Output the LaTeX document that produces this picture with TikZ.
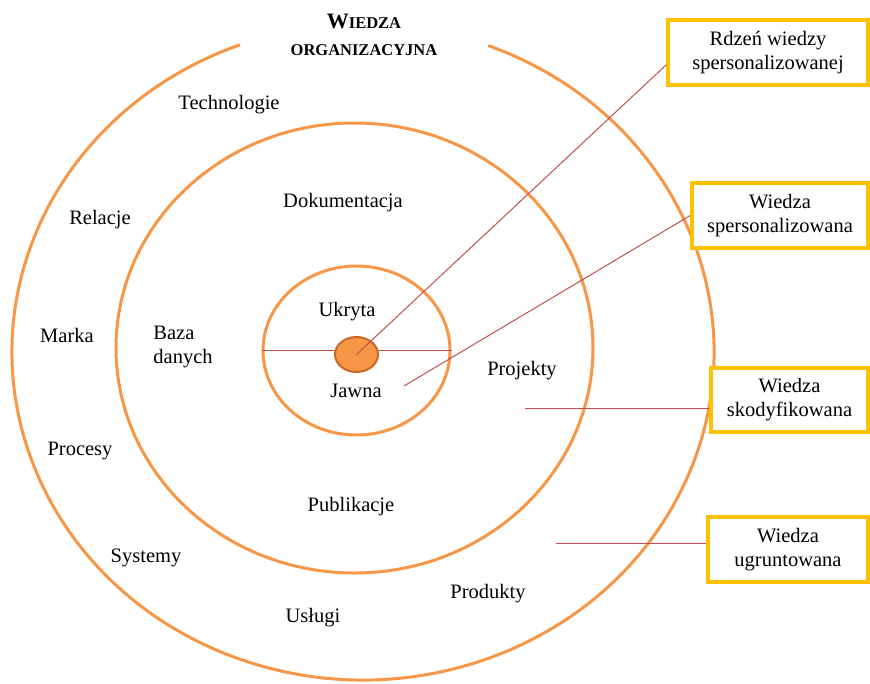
\documentclass[tikz,border=0pt]{standalone}
\usepackage{fontspec}
\setmainfont{Liberation Serif}
\usetikzlibrary{shapes.geometric,calc}
\definecolor{ringorange}{HTML}{F79646}
\definecolor{dotedge}{HTML}{C8682A}
\definecolor{boxgold}{HTML}{FFC000}
\definecolor{leader}{HTML}{C0504D}
\begin{document}
\begin{tikzpicture}[x=1pt,y=1pt,
  ring/.style={draw=ringorange, line width=3pt},
  ringnode/.style={ring, ellipse, inner sep=0pt, fill=none},
  lbl/.style={font=\fontsize{20.5}{24}\selectfont, inner sep=0pt, text=black},
  infobox/.style={draw=boxgold, line width=3.5pt, fill=white, align=center,
    font=\fontsize{20.5}{24}\selectfont, inner sep=0pt, text=black},
  leaderline/.style={draw=leader, line width=1pt}]
\useasboundingbox (0,0) rectangle (870,-683);

% outer ring, open at the top for the heading
\coordinate (oc) at (363,-352);
\draw[ring] ($(oc)+(69.1:351 and 328)$) arc[start angle=69.1, end angle=-249.5, x radius=351, y radius=328];

% heading in bold small capitals
\node[align=center, inner sep=0pt, font=\bfseries\fontsize{16.5}{27}\selectfont] (title) at (364,-34.5)
  {{\fontsize{22}{27}\selectfont W}IEDZA\\ORGANIZACYJNA};

% middle and inner rings
\node[ringnode, minimum width=477, minimum height=450] (mid) at (354.5,-348) {};
\node[ringnode, minimum width=187, minimum height=169] (inner) at (356.5,-350.5) {};

% divider of the inner ring and the core
\draw[leaderline] (inner.west) -- (inner.east);
\node[ellipse, draw=dotedge, line width=2pt, fill=ringorange, inner sep=0pt,
  minimum width=43, minimum height=35] (core) at (356.5,-354.5) {};

% outer ring labels
\node[lbl] (technologie) at (229,-105) {Technologie};
\node[lbl] (relacje) at (100,-220) {Relacje};
\node[lbl] (marka) at (67,-335) {Marka};
\node[lbl] (procesy) at (80,-451) {Procesy};
\node[lbl] (systemy) at (146,-558) {Systemy};
\node[lbl] (uslugi) at (313,-618) {Usługi};
\node[lbl] (produkty) at (488,-594) {Produkty};

% middle ring labels
\node[lbl] (dokumentacja) at (343,-203) {Dokumentacja};
\node[lbl, align=left] (baza) at (183,-347) {Baza\\danych};
\node[lbl] (projekty) at (522,-371) {Projekty};
\node[lbl] (publikacje) at (351,-507) {Publikacje};

% inner ring labels
\node[lbl] (ukryta) at (347,-312) {Ukryta};
\node[lbl] (jawna) at (356,-391) {Jawna};

% legend boxes
\node[infobox, minimum width=200, minimum height=65] (box1) at (768,-52.5)
  {Rdzeń wiedzy\\spersonalizowanej};
\node[infobox, minimum width=176, minimum height=65] (box2) at (780,-215.5)
  {Wiedza\\spersonalizowana};
\node[infobox, minimum width=157, minimum height=64] (box3) at (789.5,-400)
  {Wiedza\\skodyfikowana};
\node[infobox, minimum width=160, minimum height=65] (box4) at (788,-549.5)
  {Wiedza\\ugruntowana};

% leader lines
\coordinate (p2) at (404,-386);
\coordinate (p3) at (525,-408);
\coordinate (p4) at (556,-543);
\draw[leaderline] (core.center) -- ($(box1.south west)!0.32!(box1.north west)$);
\draw[leaderline] (p2) -- (box2.west);
\draw[leaderline] (p3) -- (p3 -| box3.west);
\draw[leaderline] (p4) -- (p4 -| box4.west);
\end{tikzpicture}
\end{document}
